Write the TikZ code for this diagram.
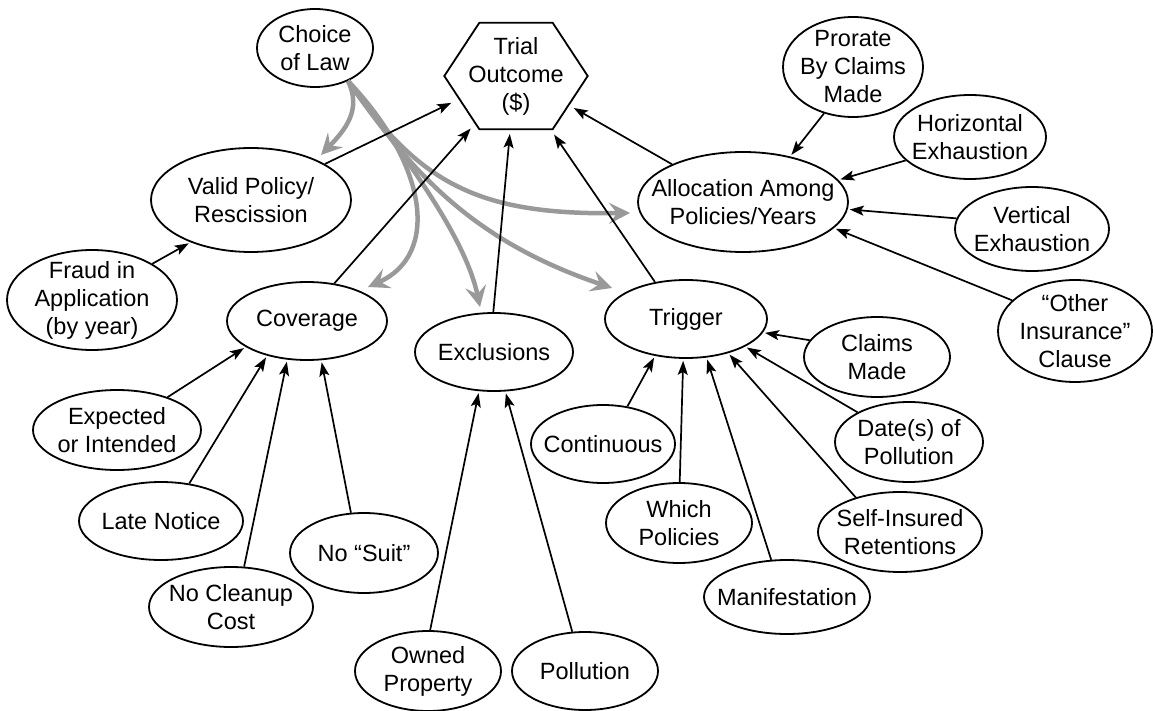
\documentclass[tikz,border=0pt]{standalone}
\usepackage{fontspec}
\setmainfont{Liberation Sans}
\usetikzlibrary{shapes.geometric,arrows.meta,calc}
\definecolor{lawgray}{gray}{0.6}
\begin{document}
\begin{tikzpicture}[x=1pt,y=-1pt,
  bubble/.style={ellipse, draw, line width=1.8pt, inner sep=0pt, fill=white},
  txt/.style={font=\fontsize{23.5}{28}\selectfont, align=center, inner sep=0pt},
  every label/.style={txt},
  arr/.style={line width=1.7pt, -{Stealth[length=14pt,width=10pt,inset=3pt]}, shorten >=2pt},
  lawarrow/.style={line width=4.5pt, draw=lawgray, -{Stealth[length=21pt,width=21pt,inset=8pt]}}]
\useasboundingbox (0,0) rectangle (1153,711);

% central outcome (hexagon)
\node[txt, minimum width=143, minimum height=106] (trial) at (516,76) {Trial\\Outcome\\(\$)};
\draw[line width=1.8pt] (trial.west) -- ($(trial.north west)+(35,0)$) -- ($(trial.north east)+(-35,0)$)
  -- (trial.east) -- ($(trial.south east)+(-35,0)$) -- ($(trial.south west)+(35,0)$) -- cycle;

% issue bubbles
\node[bubble, minimum width=116, minimum height=78, label={center:Choice\\of Law}] (law) at (315,48) {};
\node[bubble, minimum width=200, minimum height=104, label={center:Valid Policy/\\Rescission}] (valid) at (251,200) {};
\node[bubble, minimum width=170, minimum height=100, label={center:Fraud in\\Application\\(by year)}] (fraud) at (92,300) {};
\node[bubble, minimum width=160, minimum height=78, label={center:Coverage}] (cov) at (307,321) {};
\node[bubble, minimum width=158, minimum height=78, label={center:Exclusions}] (excl) at (494,352) {};
\node[bubble, minimum width=162, minimum height=78, label={center:Trigger}] (trig) at (686,319) {};
\node[bubble, minimum width=210, minimum height=100, label={center:Allocation Among\\Policies/Years}] (alloc) at (743,202) {};

% allocation factors
\node[bubble, minimum width=140, minimum height=100, label={center:Prorate\\By Claims\\Made}] (prorate) at (853,67) {};
\node[bubble, minimum width=152, minimum height=84, label={center:Horizontal\\Exhaustion}] (horiz) at (970,137) {};
\node[bubble, minimum width=154, minimum height=84, label={center:Vertical\\Exhaustion}] (vert) at (1032,229) {};
\node[bubble, minimum width=154, minimum height=102, label={center:“Other\\Insurance”\\Clause}] (other) at (1075,331) {};

% coverage defences
\node[bubble, minimum width=168, minimum height=80, label={center:Expected\\or Intended}] (expect) at (117,430) {};
\node[bubble, minimum width=164, minimum height=78, label={center:Late Notice}] (late) at (161,521) {};
\node[bubble, minimum width=164, minimum height=80, label={center:No Cleanup\\Cost}] (cleanup) at (231,607) {};
\node[bubble, minimum width=148, minimum height=80, label={center:No “Suit”}] (suit) at (364,553) {};

% exclusions
\node[bubble, minimum width=146, minimum height=80, label={center:Owned\\Property}] (owned) at (428,671) {};
\node[bubble, minimum width=146, minimum height=78, label={center:Pollution}] (poll) at (585,671) {};

% trigger theories
\node[bubble, minimum width=144, minimum height=78, label={center:Continuous}] (cont) at (603,444) {};
\node[bubble, minimum width=146, minimum height=80, label={center:Which\\Policies}] (which) at (679,523) {};
\node[bubble, minimum width=166, minimum height=74, label={center:Manifestation}] (manif) at (787,597) {};
\node[bubble, minimum width=164, minimum height=80, label={center:Self-Insured\\Retentions}] (sir) at (900,532) {};
\node[bubble, minimum width=148, minimum height=80, label={center:Date(s) of\\Pollution}] (dates) at (909,442) {};
\node[bubble, minimum width=146, minimum height=80, label={center:Claims\\Made}] (claims) at (877,357) {};

% choice of law bears on several issues
\draw[lawarrow] (law.-45) .. controls (362,110) and (345,130) .. ($(valid.center)+(70,-45)$);
\draw[lawarrow] (law.-45) .. controls (420,185) and (480,215) .. ($(alloc.center)+(-113,11)$);
\draw[lawarrow] (law.-45) .. controls (410,170) and (470,240) .. ($(trig.center)+(-74,-31)$);
\draw[lawarrow] (law.-45) .. controls (400,150) and (465,235) .. ($(excl.center)+(-14,-45)$);
\draw[lawarrow] (law.-45) .. controls (428,165) and (440,255) .. ($(cov.center)+(61,-34)$);

% into the trial outcome
\draw[arr] (valid.26) -- ($(trial.center)+(-63,26)$);
\draw[arr] (cov.54) -- ($(trial.center)+(-44,51)$);
\draw[arr] (excl.91) -- ($(trial.center)+(-6,56)$);
\draw[arr] (trig.130) -- ($(trial.center)+(37,57)$);
\draw[arr] (alloc.152) -- ($(trial.center)+(56,31)$);

% sub-issues
\draw[arr] (fraud.31) -- (valid.215);
\draw[arr] (expect.33) -- (cov.203);
\draw[arr] (late.53) -- (cov.221);
\draw[arr] (cleanup.72) -- (cov.243);
\draw[arr] (suit.108) -- (cov.290);
\draw[arr] (owned.87) -- (excl.249);
\draw[arr] (poll.108) -- (excl.286);
\draw[arr] (cont.57) -- (trig.230);
\draw[arr] (which.89) -- (trig.266);
\draw[arr] (manif.113) -- (trig.298);
\draw[arr] (sir.142) -- (trig.321);
\draw[arr] (dates.150) -- (trig.335);
\draw[arr] (claims.166) -- (trig.350);
\draw[arr] (prorate.238) -- (alloc.44);
\draw[arr] (horiz.200) -- (alloc.13);
\draw[arr] (vert.172) -- (alloc.356);
\draw[arr] (other.154) -- (alloc.344);
\end{tikzpicture}
\end{document}
